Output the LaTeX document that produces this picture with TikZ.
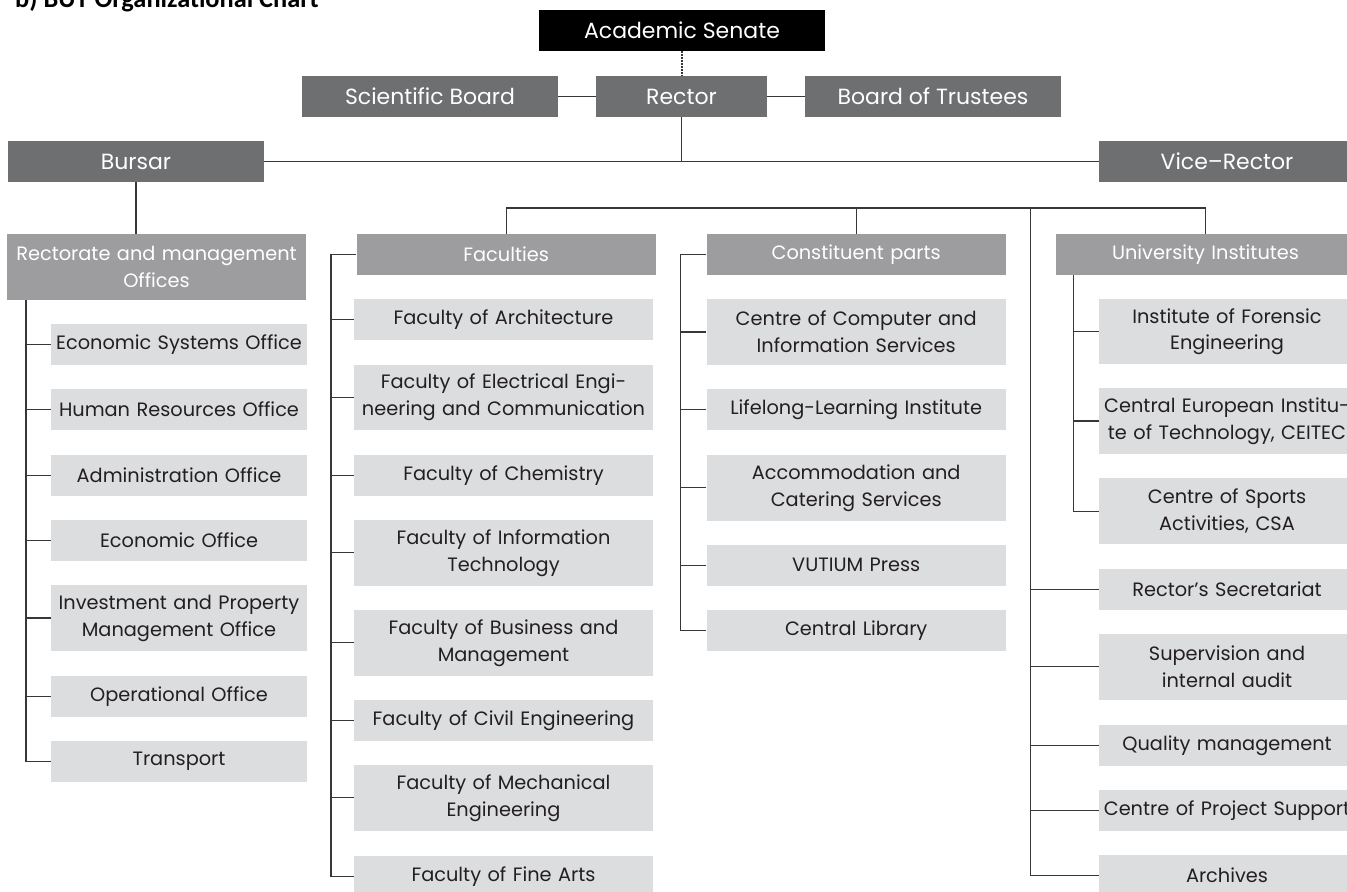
\documentclass[tikz,border=0pt]{standalone}
\usepackage{fontspec}
\newfontfamily\boxfont{Poppins}
\newfontfamily\titlefont{Carlito}
\definecolor{topgrey}{RGB}{110,111,113}
\definecolor{midgrey}{RGB}{157,157,159}
\definecolor{palegrey}{RGB}{220,221,223}
\definecolor{wiregrey}{RGB}{55,55,55}
\definecolor{inkgrey}{RGB}{35,31,32}
\begin{document}
\begin{tikzpicture}[x=0.2mm,y=-0.2mm,
        box/.style={inner xsep=0pt,inner ysep=0pt,align=center,
            minimum height=8.2mm,font=\boxfont\fontsize{11}{15.3}\selectfont},
        topbox/.style={box,fill=topgrey,text=white,minimum width=51.2mm,
            font=\boxfont\fontsize{12.5}{15.3}\selectfont},
        headbox/.style={box,fill=midgrey,text=white,text width=59.8mm},
        unitbox/.style={box,fill=palegrey,text=inkgrey,text width=51.2mm},
        wideunit/.style={unitbox,text width=59.8mm},
        tall/.style={minimum height=13.1mm},
        wire/.style={draw=wiregrey,line width=0.25mm}]
    \useasboundingbox (0,0) rectangle (1347,891);
    \fill[white] (0,0) rectangle (1347,891);
    \node[anchor=base west,font=\titlefont\bfseries\fontsize{15}{17}\selectfont] (title) at (9,7) {b) BUT Organizational Chart};

    %% top of the chart
    \node[topbox,fill=black,minimum width=57.2mm] (senate) at (682,30.5) {Academic Senate};
    \node[topbox,minimum width=34.2mm] (rector) at (681.5,96.5) {Rector};
    \node[topbox] (sciboard) at (430,96.5) {Scientific Board};
    \node[topbox] (trustees) at (933,96.5) {Board of Trustees};
    \node[topbox] (bursar) at (136,161.5) {Bursar};
    \node[topbox] (vicerector) at (1227,161.5) {Vice–Rector};

    %% column headings
    \node[headbox,tall] (rectorate) at (156.5,267) {Rectorate and management\\Offices};
    \node[headbox] (faculties) at (506.2,254.5) {Faculties};
    \node[headbox] (parts) at (856.2,254.5) {Constituent parts};
    \node[headbox] (institutes) at (1205.5,254.5) {University Institutes};

    %% rectorate offices
    \node[unitbox] (ecosys) at (179,344.3) {Economic Systems Office};
    \node[unitbox] (hr) at (179,409.3) {Human Resources Office};
    \node[unitbox] (admin) at (179,475.3) {Administration Office};
    \node[unitbox] (eco) at (179,540.3) {Economic Office};
    \node[unitbox,tall] (invest) at (179,618) {Investment and Property\\Management Office};
    \node[unitbox] (oper) at (179,696.3) {Operational Office};
    \node[unitbox] (transport) at (179,761.3) {Transport};

    %% faculties
    \node[wideunit] (farch) at (503.5,319.3) {Faculty of Architecture};
    \node[wideunit,tall] (felec) at (503.5,397.6) {Faculty of Electrical Engi-\\neering and Communication};
    \node[wideunit] (fchem) at (503.5,475.3) {Faculty of Chemistry};
    \node[wideunit,tall] (fit) at (503.5,552.8) {Faculty of Information\\Technology};
    \node[wideunit,tall] (fbm) at (503.5,642.8) {Faculty of Business and\\Management};
    \node[wideunit] (fcivil) at (503.5,720.3) {Faculty of Civil Engineering};
    \node[wideunit,tall] (fmech) at (503.5,797.8) {Faculty of Mechanical\\Engineering};
    \node[wideunit] (ffa) at (503.5,876.3) {Faculty of Fine Arts};

    %% constituent parts
    \node[wideunit,tall] (cvis) at (856.2,332) {Centre of Computer and\\Information Services};
    \node[wideunit] (lli) at (856.2,409.3) {Lifelong-Learning Institute};
    \node[wideunit,tall] (kam) at (856.2,487.8) {Accommodation and\\Catering Services};
    \node[wideunit] (press) at (856.2,565.3) {VUTIUM Press};
    \node[wideunit] (library) at (856.2,630.8) {Central Library};

    %% institutes
    \node[unitbox,tall] (forensic) at (1227,331.7) {Institute of Forensic\\Engineering};
    \node[unitbox,tall] (ceitec) at (1227,421) {Central European Institu-\\te of Technology, CEITEC};
    \node[unitbox,tall] (csa) at (1227,511.2) {Centre of Sports\\Activities, CSA};

    %% units under the vice-rector
    \node[unitbox] (secretariat) at (1227,589.5) {Rector’s Secretariat};
    \node[unitbox,tall] (audit) at (1227,666.8) {Supervision and\\internal audit};
    \node[unitbox] (quality) at (1227,745.3) {Quality management};
    \node[unitbox] (projects) at (1227,810.3) {Centre of Project Support};
    \node[unitbox] (archives) at (1227,875.3) {Archives};

    %% spines
    \coordinate (bus) at (0,208);
    \coordinate (rspine) at (26,0);
    \coordinate (fspine) at (331,0);
    \coordinate (pspine) at (680.5,0);
    \coordinate (ispine) at (1073.3,0);
    \coordinate (vspine) at (1030.7,208);

    %% connectors
    \draw[wire,densely dotted] (senate.south) -- (senate.south |- rector.north);
    \draw[wire] (sciboard) -- (rector) -- (trustees);
    \draw[wire] (bursar) -- (vicerector);
    \draw[wire] (rector.south) -- (rector.south |- bursar.east);
    \draw[wire] (bursar.south) -- (rectorate.north -| bursar.south);
    \draw[wire] (faculties.north) -- (faculties.north |- bus) -| (institutes.north);
    \draw[wire] (parts.north) -- (parts.north |- bus);
    \draw[wire] (vspine) -- (vspine |- archives.west) -- (archives.west);
    \draw[wire] (rspine |- rectorate.south) -- (rspine |- transport.west) -- (transport.west);
    \draw[wire] (faculties.west) -| (fspine |- ffa.west) -- (ffa.west);
    \draw[wire] (parts.west) -| (pspine |- library.west) -- (library.west);
    \draw[wire] (ispine |- institutes.south) -- (ispine |- csa.west) -- (csa.west);
    \foreach \n in {ecosys,hr,admin,eco,invest,oper}
        \draw[wire] (\n.west) -- (rspine |- \n.west);
    \foreach \n in {farch,felec,fchem,fit,fbm,fcivil,fmech}
        \draw[wire] (\n.west) -- (fspine |- \n.west);
    \foreach \n in {cvis,lli,kam,press}
        \draw[wire] (\n.west) -- (pspine |- \n.west);
    \foreach \n in {forensic,ceitec}
        \draw[wire] (\n.west) -- (ispine |- \n.west);
    \foreach \n in {secretariat,audit,quality,projects}
        \draw[wire] (\n.west) -- (vspine |- \n.west);
\end{tikzpicture}
\end{document}
